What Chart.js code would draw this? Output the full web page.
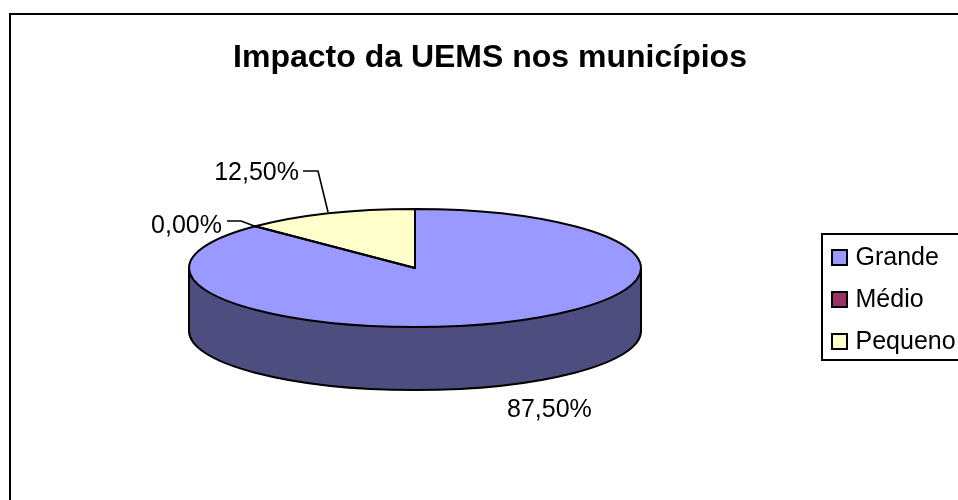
<!DOCTYPE html>
<html><head><meta charset="utf-8">
<style>html,body{margin:0;padding:0;background:#fff;overflow:hidden}canvas{display:block}</style>
<script src="https://cdn.jsdelivr.net/npm/chart.js@4"></script>
</head><body><canvas id="c" width="958" height="500"></canvas>
<script>
const categories = ['Grande', 'Médio', 'Pequeno'];
const values = [87.5, 0, 12.5];
const colors = ['#9999ff', '#993366', '#ffffcc'];
const wallColor = '#4d4d80';
const titleText = 'Impacto da UEMS nos municípios';

const FONT = '"Liberation Sans", Arial, sans-serif';
const CX = 415, CY = 268, RX = 226, RY = 59, DEPTH = 63;
const fmt = v => v.toFixed(2).replace('.', ',') + '%';

const pie3d = {
  id: 'pie3d',
  afterLayout(chart) {
    chart.chartArea.left = 0; chart.chartArea.right = CX * 2;
    chart.chartArea.top = 0; chart.chartArea.bottom = CY * 2;
    chart.chartArea.width = CX * 2; chart.chartArea.height = CY * 2;
    const lg = chart.legend;
    lg.left = 815; lg.right = 958; lg.top = 229; lg.bottom = 500;
    const t = chart.titleBlock;
    t.left = 22; t.right = 958; t.top = 39; t.bottom = 79;
  },
  beforeDraw(chart) {
    const c = chart.ctx;
    c.save();
    c.fillStyle = '#fff'; c.fillRect(0, 0, 958, 500);
    c.strokeStyle = '#000'; c.lineWidth = 2;
    c.strokeRect(10, 14, 1000, 1000);
    c.strokeRect(822, 234, 300, 126);
    c.restore();
  },
  beforeDatasetsDraw(chart) {
    const c = chart.ctx;
    const a = chart.getDatasetMeta(0).data[0];
    const rx = a.outerRadius, x = a.x, y = a.y, ry = rx * RY / RX;
    // side wall of the disc
    c.save();
    c.beginPath();
    c.moveTo(x - rx, y);
    c.lineTo(x - rx, y + DEPTH);
    c.ellipse(x, y + DEPTH, rx, ry, 0, Math.PI, 0, true);
    c.lineTo(x + rx, y);
    c.closePath();
    c.fillStyle = wallColor; c.fill();
    c.strokeStyle = '#000'; c.lineWidth = 2; c.lineJoin = 'round'; c.stroke();
    c.restore();
    c.save();
    c.translate(x, y); c.scale(1, RY / RX); c.translate(-x, -y);
  },
  afterDatasetsDraw(chart) {
    const c = chart.ctx;
    c.restore();
    const arcs = chart.getDatasetMeta(0).data;
    c.save();
    c.strokeStyle = '#000'; c.lineWidth = 2; c.lineJoin = 'round';
    arcs.forEach(a => {
      if (a.endAngle - a.startAngle <= 0) return;
      const ry = a.outerRadius * RY / RX;
      c.beginPath();
      c.moveTo(a.x, a.y);
      c.ellipse(a.x, a.y, a.outerRadius, ry, 0, a.startAngle, a.endAngle);
      c.closePath();
      c.stroke();
    });
    // data labels with leader lines
    c.lineWidth = 1.6;
    c.beginPath(); c.moveTo(227, 221); c.lineTo(241, 221); c.lineTo(257, 227); c.stroke();
    c.beginPath(); c.moveTo(303, 171); c.lineTo(318, 171); c.lineTo(328, 212); c.stroke();
    c.fillStyle = '#000'; c.font = '25px ' + FONT; c.textBaseline = 'alphabetic';
    c.textAlign = 'right';
    c.fillText(fmt(values[1]), 222, 233);
    c.fillText(fmt(values[2]), 299, 180);
    c.textAlign = 'left';
    c.fillText(fmt(values[0]), 507, 417);
    c.restore();
  },
  afterDraw(chart) {
    const c = chart.ctx;
    c.save();
    c.strokeStyle = '#000'; c.lineWidth = 2;
    categories.forEach((_, i) => {
      const y = [250, 292, 334][i];
      c.fillStyle = colors[i];
      c.fillRect(832, y, 15, 15);
      c.strokeRect(832, y, 15, 15);
    });
    c.restore();
  }
};

new Chart(document.getElementById('c'), {
  type: 'pie',
  data: {
    labels: categories,
    datasets: [{ data: values, backgroundColor: colors, borderWidth: 0, clip: false, radius: RX }]
  },
  options: {
    responsive: false,
    animation: false,
    devicePixelRatio: 1,
    plugins: {
      tooltip: { enabled: false },
      title: {
        display: true, text: titleText, color: '#000', padding: 0,
        font: { family: FONT, size: 32, weight: 'bold' }
      },
      legend: {
        display: true, position: 'right', align: 'start',
        labels: {
          color: '#000', boxWidth: 11, boxHeight: 15, padding: 17,
          font: { family: FONT, size: 25 }
        }
      }
    }
  },
  plugins: [pie3d]
});
</script></body></html>
